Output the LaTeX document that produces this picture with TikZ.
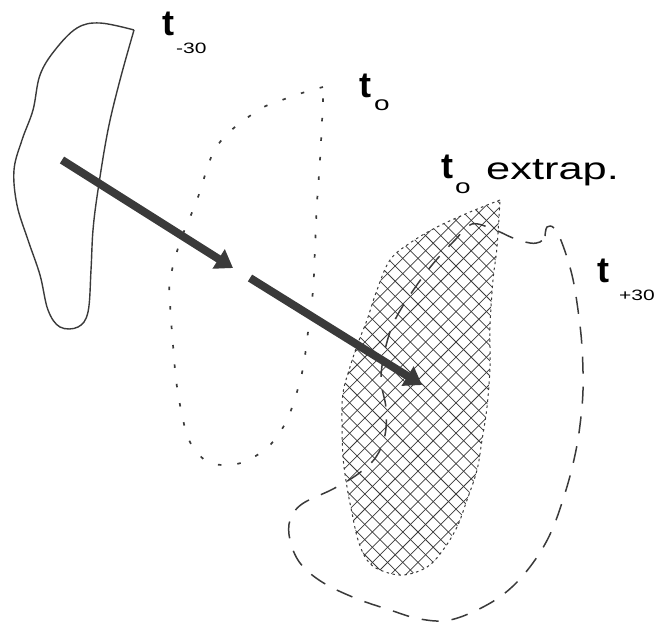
\documentclass[tikz,border=0pt]{standalone}
\usepackage{fontspec}
\setmainfont{Liberation Sans}
\usetikzlibrary{positioning,arrows.meta}
\definecolor{inkgray}{HTML}{3A3A3A}
\newcommand{\wide}[1]{\scalebox{1.4}[1]{#1}}

\begin{document}
\begin{tikzpicture}[x=1pt, y=-1pt,
    outline/.style={line width=1.4pt, inkgray},
    dotline/.style={line width=1.7pt, inkgray, dash pattern=on 3.5pt off 16pt},
    dashline/.style={line width=1.5pt, inkgray, dash pattern=on 17pt off 13pt},
    edgeline/.style={line width=1pt, inkgray, dash pattern=on 2.5pt off 3.5pt},
    hatchline/.style={line width=0.75pt, inkgray},
    tlabel/.style={inner sep=0pt, anchor=base west, font=\fontsize{36}{36}\selectfont\bfseries},
    sub/.style={inner sep=0pt, anchor=base west, font=\fontsize{15}{15}\selectfont},
    word/.style={inner sep=0pt, anchor=base west, font=\fontsize{31}{31}\selectfont},
    arr/.style={-{Triangle[length=17pt, width=22pt]}, line width=8pt, inkgray}]
  \useasboundingbox (0,0) rectangle (663,624);
  % outline at -30
  \draw[outline] plot[smooth, tension=0.6] coordinates {(134,30) (100,23) (77,28) (55,50) (40,75) (33,110) (22,140) (14,170) (17,205) (28,240) (40,275) (48,310) (60,327) (78,327) (88,312) (91,270) (93,230) (98,190) (108,130) (120,80) (134,30)};
  % outline at 0
  \draw[dotline] plot[smooth, tension=0.6] coordinates {(323,87) (302,93) (282,100) (262,108) (235,127) (220,142) (210,160) (197,200) (180,242) (170,280) (170,303) (173,345) (177,387) (185,428) (193,447) (208,462) (230,465) (248,460) (267,448) (280,432) (290,413) (302,373) (308,332) (313,290) (315,247) (317,203) (320,160) (323,100) (323,87)};
  % extrapolated outline, cross hatched
  \begin{scope}
    \clip plot[smooth, tension=0.6] coordinates {(500,200) (470,212) (437,227) (410,243) (390,260) (377,290) (367,320) (358,343) (350,367) (343,393) (342,423) (343,457) (347,487) (352,513) (358,540) (367,560) (380,570) (403,575) (427,567) (443,550) (457,527) (467,500) (477,470) (482,440) (487,407) (490,367) (490,327) (493,280) (497,247) (500,200)};
    \foreach \k in {-4,...,60}
      \draw[hatchline] (\k*15.2,190) -- ++(400,400) (\k*15.2,190) -- ++(-400,400);
  \end{scope}
  \draw[edgeline] plot[smooth, tension=0.6] coordinates {(500,200) (470,212) (437,227) (410,243) (390,260) (377,290) (367,320) (358,343) (350,367) (343,393) (342,423) (343,457) (347,487) (352,513) (358,540) (367,560) (380,570) (403,575) (427,567) (443,550) (457,527) (467,500) (477,470) (482,440) (487,407) (490,367) (490,327) (493,280) (497,247) (500,200)};
  % outline at +30
  \draw[dashline] plot[smooth, tension=0.6] coordinates {(545,236) (547,227) (554,228) (562,243) (572,275) (578,310) (582,347) (583,390) (580,425) (575,455) (566,490) (552,530) (535,560) (512,587) (485,606) (450,620) (420,619) (390,610) (355,598) (322,582) (300,563) (290,540) (290,520) (302,504) (333,489) (358,474) (376,457) (385,435) (386,408) (381,380) (385,350) (394,322) (410,295) (432,265) (455,240) (472,224) (495,230) (513,238) (530,243) (540,242) (545,236)};
  % displacement arrows
  \coordinate (prevc) at (62,160);
  \coordinate (nowc) at (233,268);
  \coordinate (gapc) at (250,278);
  \coordinate (extrc) at (422,385);
  \draw[arr] (prevc) -- (nowc);
  \draw[arr] (gapc) -- (extrc);
  % labels
  \node[tlabel] (tprev) at (162,35) {t};
  \node[sub] (sprev) at (176,53) {\wide{-30}};
  \node[tlabel] (tnow) at (359,97) {t};
  \node[sub, font=\fontsize{20}{20}\selectfont] (snow) at (374,110) {\wide{o}};
  \node[tlabel] (textr) at (441,178) {t};
  \node[sub, font=\fontsize{20}{20}\selectfont] (sextr) at (455,193) {\wide{o}};
  \node[word] (extrap) at (486,179) {\wide{extrap.}};
  \node[tlabel] (tnext) at (597,282) {t};
  \node[sub] (snext) at (619,300) {\wide{+30}};
\end{tikzpicture}
\end{document}
